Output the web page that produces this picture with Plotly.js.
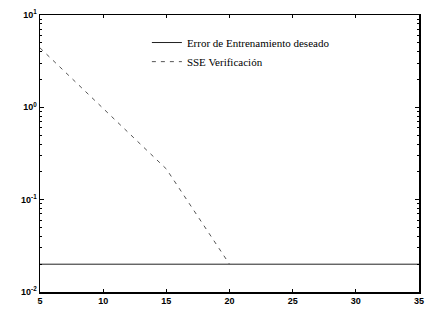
<!DOCTYPE html>
<html>
<head>
<meta charset="utf-8">
<script src="https://cdn.plot.ly/plotly-3.0.1.min.js"></script>
<style>html,body{margin:0;padding:0;background:#fff;}#chart{width:426px;height:311px;}</style>
</head>
<body>
<div id="chart"></div>
<script>
// Data
const goalX = [5, 35];
const goalY = [0.02, 0.02];
const sseX = [5, 10, 15, 20];
const sseY = [4.4, 0.96, 0.215, 0.02];
const xTicks = [5, 10, 15, 20, 25, 30, 35];
const yTickVals = [0.01, 0.1, 1, 10];
const yTickText = ['10<sup>-2</sup>', '10<sup>-1</sup>', '10<sup>0</sup>', '10<sup>1</sup>'];
const legendNames = ['Error de Entrenamiento deseado', 'SSE Verificación'];

// minor log tick positions (axis styling)
const minorVals = [];
for (let e = -2; e < 1; e++) for (let m = 2; m <= 9; m++) minorVals.push(m * Math.pow(10, e));

const traces = [
  {x: goalX, y: goalY, name: legendNames[0], mode: 'lines', type: 'scatter', legend: 'legend',
   line: {color: '#222', width: 1}},
  {x: sseX, y: sseY, name: legendNames[1], mode: 'lines', type: 'scatter', legend: 'legend2',
   line: {color: '#555', width: 1, dash: '4px,5px'}}
];

const legFont = {family: 'Liberation Serif', size: 11, color: '#000'};
const layout = {
  width: 426, height: 311,
  margin: {l: 40, r: 7, t: 15, b: 19},
  paper_bgcolor: '#fff', plot_bgcolor: '#fff',
  showlegend: true,
  legend: {x: 0.282, y: 0.953, xanchor: 'left', yanchor: 'top', bgcolor: 'rgba(0,0,0,0)',
           borderwidth: 0, itemwidth: 30, font: legFont},
  legend2: {x: 0.282, y: 0.884, xanchor: 'left', yanchor: 'top', bgcolor: 'rgba(0,0,0,0)',
           borderwidth: 0, itemwidth: 30, font: legFont},
  xaxis: {range: [5, 35], tickmode: 'array', tickvals: xTicks, ticktext: xTicks.map(String),
          ticks: 'inside', ticklen: 3, tickcolor: '#000', showline: true, linecolor: '#000', linewidth: 1.5,
          mirror: 'ticks', showgrid: false, zeroline: false,
          tickfont: {family: 'Liberation Sans', size: 9, color: '#000', weight: 'bold'}},
  yaxis: {type: 'log', range: [-2, 1], tickmode: 'array', tickvals: yTickVals, ticktext: yTickText,
          ticks: 'inside', ticklen: 4, tickcolor: '#000', showline: true, linecolor: '#000', linewidth: 1.5,
          mirror: 'ticks', showgrid: false, zeroline: false,
          minor: {tickmode: 'array', tickvals: minorVals, ticks: 'inside', ticklen: 2, tickcolor: '#000', showgrid: false},
          tickfont: {family: 'Liberation Sans', size: 9, color: '#000', weight: 'bold'}}
};

Plotly.newPlot('chart', traces, layout, {displayModeBar: false, staticPlot: true});
</script>
</body>
</html>
